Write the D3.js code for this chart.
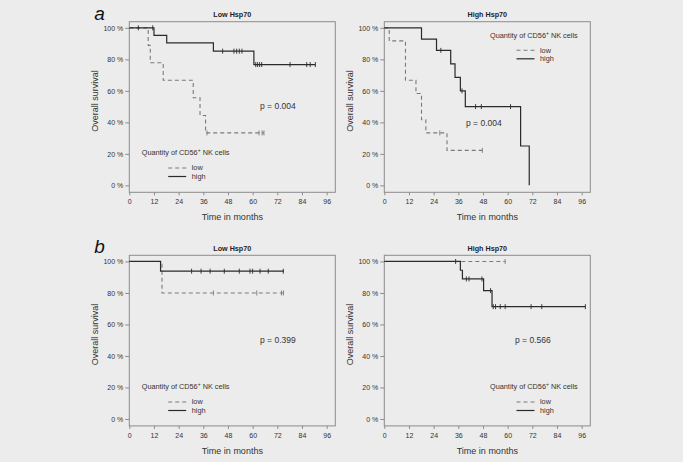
<!DOCTYPE html>
<html><head><meta charset="utf-8">
<script src="https://cdn.jsdelivr.net/npm/d3@7"></script>
<style>
html,body{margin:0;padding:0;background:#ececec;}
svg{display:block;font-family:"Liberation Sans",Arial,sans-serif;}
</style></head>
<body>
<svg id="chart" width="683" height="462"></svg>
<script>
// ---------- DATA ----------
const monthTicks = [0, 12, 24, 36, 48, 60, 72, 84, 96];
const survTicks = [0, 20, 40, 60, 80, 100];
const panelTitles = ["Low Hsp70", "High Hsp70", "Low Hsp70", "High Hsp70"];
const panelLetters = ["a", "", "b", ""];
const pValues = ["p = 0.004", "p = 0.004", "p = 0.399", "p = 0.566"];
const seriesNames = ["low", "high"];

// panel a, Low Hsp70
const aLowLowTimes = [0, 9.2, 10.2, 16.5, 31.1, 34.4, 37.1];
const aLowLowSurv = [100, 88.9, 77.8, 66.7, 55.6, 44.4, 33.3];
const aLowLowCens = [37.8, 63.1, 64.6, 65.5];
const aLowLowEnd = 65.5;
const aLowHighTimes = [0, 12.0, 18.2, 40.9, 60.6];
const aLowHighSurv = [100, 95.2, 90.5, 85.2, 76.7];
const aLowHighCens = [4.4, 11.4, 45.4, 50.9, 52.2, 53.5, 54.8, 61.5, 62.4, 63.4, 64.4, 78.2, 86.3, 88.0, 90.5];
const aLowHighEnd = 90.5;

// panel a, High Hsp70
const aHighLowTimes = [0, 2.4, 10.3, 15.4, 18.1, 20.2, 30.5];
const aHighLowSurv = [100, 91.7, 66.7, 58.3, 41.7, 33.3, 22.2];
const aHighLowCens = [27.0, 47.7];
const aHighLowEnd = 47.7;
const aHighHighTimes = [0, 18.1, 25.4, 32.3, 34.4, 37.0, 39.4, 66.3, 70.5];
const aHighHighSurv = [100, 92.9, 85.7, 77.1, 68.6, 60.0, 50.0, 25.0, 0];
const aHighHighCens = [27.5, 37.8, 44.4, 47.2, 61.4];
const aHighHighEnd = 70.5;

// panel b, Low Hsp70
const bLowLowTimes = [0, 15.9];
const bLowLowSurv = [100, 80];
const bLowLowCens = [40.9, 62.0, 74.0, 75.0];
const bLowLowEnd = 75.0;
const bLowHighTimes = [0, 15.2];
const bLowHighSurv = [100, 93.8];
const bLowHighCens = [30.3, 34.9, 39.3, 46.2, 53.5, 58.7, 60.0, 63.6, 67.6, 74.9];
const bLowHighEnd = 75.2;

// panel b, High Hsp70
const bHighLowTimes = [0];
const bHighLowSurv = [100];
const bHighLowCens = [58.8];
const bHighLowEnd = 58.8;
const bHighHighTimes = [0, 37.0, 38.0, 48.3, 52.4];
const bHighHighSurv = [100, 94.4, 88.9, 81.5, 71.3];
const bHighHighCens = [34.7, 39.9, 41.2, 47.5, 51.7, 53.0, 54.1, 56.4, 58.8, 71.4, 76.6, 97.8];
const bHighHighEnd = 97.8;

// ---------- LAYOUT ----------
const svg = d3.select("#chart");
const boxW = 206, boxH = 170.6;
const panelOrigins = [[129.3, 21.7], [384.3, 21.7], [129.3, 255.3], [384.3, 255.3]];
const legendPos = ["bottomleft", "topright", "bottomleft", "bottomright"];
const pPos = [[260, 109], [466, 125.5], [260, 343], [515, 343]];

const panels = [
  {low: [aLowLowTimes, aLowLowSurv, aLowLowCens, aLowLowEnd], high: [aLowHighTimes, aLowHighSurv, aLowHighCens, aLowHighEnd]},
  {low: [aHighLowTimes, aHighLowSurv, aHighLowCens, aHighLowEnd], high: [aHighHighTimes, aHighHighSurv, aHighHighCens, aHighHighEnd]},
  {low: [bLowLowTimes, bLowLowSurv, bLowLowCens, bLowLowEnd], high: [bLowHighTimes, bLowHighSurv, bLowHighCens, bLowHighEnd]},
  {low: [bHighLowTimes, bHighLowSurv, bHighLowCens, bHighLowEnd], high: [bHighHighTimes, bHighHighSurv, bHighHighCens, bHighHighEnd]}
];

const styles = {
  low: {stroke: "#7a7a7a", dash: "4,3", width: 1.1},
  high: {stroke: "#2a2a2a", dash: null, width: 1.2}
};
const textCol = "#333";

function survAt(times, surv, t) {
  let v = surv[0];
  for (let i = 0; i < times.length; i++) if (times[i] <= t) v = surv[i];
  return v;
}

panels.forEach((p, i) => {
  const [ox, oy] = panelOrigins[i];
  const g = svg.append("g").attr("transform", `translate(${ox},${oy})`);
  const x = d3.scaleLinear().domain([0, 100.2]).range([0, boxW]);
  const y = d3.scaleLinear().domain([-4.4, 103.9]).range([boxH, 0]);

  // axes
  const yAx = g.append("g").call(d3.axisLeft(y).tickValues(survTicks).tickSize(4).tickPadding(2).tickFormat(d => d + " %"));
  const xAx = g.append("g").attr("transform", `translate(0,${boxH})`)
    .call(d3.axisBottom(x).tickValues(monthTicks).tickSize(3).tickPadding(4));
  [yAx, xAx].forEach(ax => {
    ax.select(".domain").remove();
    ax.selectAll("line").attr("stroke", "#8c8c8c");
    ax.selectAll("text").attr("fill", textCol).style("font-size", "7px")
      .style("font-family", "'Liberation Sans', Arial, sans-serif");
  });

  // box
  g.append("rect").attr("x", 0).attr("y", 0).attr("width", boxW).attr("height", boxH)
    .attr("fill", "none").attr("stroke", "#8c8c8c").attr("stroke-width", 1);

  // curves
  const line = d3.line().x(d => x(d[0])).y(d => y(d[1])).curve(d3.curveStepAfter);
  ["low", "high"].forEach(k => {
    const [times, surv, cens, end] = p[k];
    const pts = times.map((t, j) => [t, surv[j]]);
    pts.push([end, surv[surv.length - 1]]);
    const st = styles[k];
    g.append("path").datum(pts).attr("d", line).attr("fill", "none")
      .attr("stroke", st.stroke).attr("stroke-width", st.width)
      .attr("stroke-dasharray", st.dash);
    g.selectAll(null).data(cens).enter().append("line")
      .attr("x1", d => x(d)).attr("x2", d => x(d))
      .attr("y1", d => y(survAt(times, surv, d)) - 2.5)
      .attr("y2", d => y(survAt(times, surv, d)) + 2.5)
      .attr("stroke", st.stroke).attr("stroke-width", 0.9);
  });

  // title
  g.append("text").attr("x", boxW / 2).attr("y", -4.5).attr("text-anchor", "middle")
    .attr("fill", "#222").style("font-size", "7.2px").style("font-weight", "bold").text(panelTitles[i]);
  // axis titles
  g.append("text").attr("x", boxW / 2).attr("y", boxH + 28).attr("text-anchor", "middle")
    .attr("fill", textCol).style("font-size", "9px").text("Time in months");
  g.append("text").attr("transform", `translate(-31,${boxH / 2 - 6}) rotate(-90)`)
    .attr("text-anchor", "middle").attr("fill", textCol).style("font-size", "9px").text("Overall survival");
  // panel letter
  if (panelLetters[i]) {
    g.append("text").attr("x", -35).attr("y", -2).attr("fill", "#111")
      .style("font-size", "19px").style("font-style", "italic").text(panelLetters[i]);
  }
  // p value
  svg.append("text").attr("x", pPos[i][0]).attr("y", pPos[i][1]).attr("fill", textCol)
    .style("font-size", "8.5px").text(pValues[i]);

  // legend
  let lx, ly;
  if (legendPos[i] === "bottomleft") { lx = 12.4; ly = i < 2 ? 133.5 : 133.9; }
  else if (legendPos[i] === "topright") { lx = 105.7; ly = 15.8; }
  else { lx = 105.7; ly = 133.9; }
  const lg = g.append("g").attr("transform", `translate(${lx},${ly})`);
  const qt = lg.append("text").attr("x", 0).attr("y", 0).attr("fill", textCol).style("font-size", "7.3px");
  qt.append("tspan").text("Quantity of CD56");
  qt.append("tspan").attr("dy", -3).style("font-size", "5px").text("+");
  qt.append("tspan").attr("dy", 3).text(" NK cells");
  seriesNames.forEach((s, j) => {
    const st = styles[s];
    const yy = 12.8 + j * 8.5;
    lg.append("line").attr("x1", 26.5).attr("x2", 44.5).attr("y1", yy).attr("y2", yy)
      .attr("stroke", st.stroke).attr("stroke-width", st.width).attr("stroke-dasharray", st.dash);
    lg.append("text").attr("x", 50).attr("y", yy + 2.5).attr("fill", textCol)
      .style("font-size", "7.3px").text(s);
  });
});
</script>
</body></html>
